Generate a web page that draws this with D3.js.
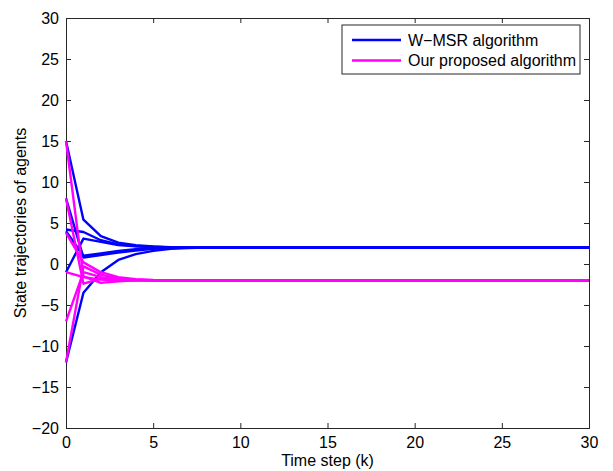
<!DOCTYPE html>
<html lang="en">
<head>
  <meta charset="UTF-8">
  <title>State trajectories</title>
  <style type="text/css">
       body{
          margin:0;
          background:#fff;
       }
       text{ font-family: "Liberation Sans", Arial, sans-serif; fill:#000; }
  </style>
  <script src="https://d3js.org/d3.v7.min.js"></script>
</head>
<body>
   <svg></svg>
   <script>
          // time steps (only the part where things move, then the flat end)
          const steps = [0, 1, 2, 3, 4, 5, 6, 7, 8, 30];

          // W-MSR algorithm, one array per agent
          const wmsr = [
            [15, 5.4, 3.4, 2.6, 2.3, 2.15, 2.05, 2.0, 2.0, 2.0],
            [8, 0.8, 1.1, 1.4, 1.65, 1.85, 1.95, 2.0, 2.0, 2.0],
            [4.2, 3.9, 2.9, 2.4, 2.2, 2.1, 2.03, 2.0, 2.0, 2.0],
            [-1, 3.1, 2.7, 2.3, 2.15, 2.05, 2.0, 2.0, 2.0, 2.0],
            [-12, -3.5, -1.0, 0.5, 1.2, 1.6, 1.85, 1.95, 2.0, 2.0],
            [4, 1.0, 1.3, 1.6, 1.8, 1.9, 1.97, 2.0, 2.0, 2.0]
          ];

          // proposed algorithm
          const proposed = [
            [15, -1.5, -2.3, -2.1, -2.0, -2.0, -2.0, -2.0, -2.0, -2.0],
            [8, -2.4, -1.8, -1.95, -2.0, -2.0, -2.0, -2.0, -2.0, -2.0],
            [3.8, 0.2, -1.0, -1.6, -1.85, -1.95, -2.0, -2.0, -2.0, -2.0],
            [-1, -1.6, -1.9, -2.0, -2.0, -2.0, -2.0, -2.0, -2.0, -2.0],
            [-7, -1.0, -1.6, -1.85, -1.95, -2.0, -2.0, -2.0, -2.0, -2.0],
            [-12, -0.3, -1.3, -1.75, -1.9, -2.0, -2.0, -2.0, -2.0, -2.0]
          ];

          const xTicks = [0, 5, 10, 15, 20, 25, 30];
          const yTicks = [-20, -15, -10, -5, 0, 5, 10, 15, 20, 25, 30];
          const legendNames = ["W\u2212MSR algorithm", "Our proposed algorithm"];
          const colors = ["#0000ff", "#ff00ff"];

          const W = 613, H = 471;
          const margin = {top:18, left:66, bottom:43, right:24};
          const width = W - margin.left - margin.right;
          const height = H - margin.top - margin.bottom;

          const svg = d3.select("svg")
                       .attr("width", W)
                       .attr("height", H);
          const g = svg.append("g")
                       .attr("transform", `translate(${margin.left},${margin.top})`);

          const xScale = d3.scaleLinear().domain([0, 30]).range([0, width]);
          const yScale = d3.scaleLinear().domain([-20, 30]).range([height, 0]);

          // axes, matlab style: ticks inside, box all round
          const fmt = d => d < 0 ? "\u2212" + Math.abs(d) : "" + d;
          const tl = 5;
          g.append("g").attr("transform", `translate(0,${height})`)
             .call(d3.axisBottom(xScale).tickValues(xTicks).tickSize(-tl).tickPadding(9).tickFormat(fmt));
          g.append("g")
             .call(d3.axisTop(xScale).tickValues(xTicks).tickSize(-tl).tickFormat(""));
          g.append("g")
             .call(d3.axisLeft(yScale).tickValues(yTicks).tickSize(-tl).tickPadding(7).tickFormat(fmt));
          g.append("g").attr("transform", `translate(${width},0)`)
             .call(d3.axisRight(yScale).tickValues(yTicks).tickSize(-tl).tickFormat(""));

          g.selectAll(".domain").attr("stroke", "#262626");
          g.selectAll(".tick line").attr("stroke", "#262626");
          g.selectAll(".tick text").attr("font-size", 16).attr("font-family", "Liberation Sans, Arial, sans-serif").attr("fill", "#000");

          const line = d3.line()
              .x((d, i) => xScale(steps[i]))
              .y(d => yScale(d));

          [wmsr, proposed].forEach((series, s) => {
            g.append("g").selectAll("path")
              .data(series)
              .enter()
              .append("path")
               .attr("d", line)
               .attr("fill", "none")
               .attr("stroke", colors[s])
               .attr("stroke-width", 2.4)
               .attr("stroke-linejoin", "round");
          });

          // labels
          svg.append("text")
             .attr("x", margin.left + width / 2)
             .attr("y", 466)
             .attr("text-anchor", "middle")
             .attr("font-size", 16)
             .text("Time step (k)");
          svg.append("text")
             .attr("transform", `translate(26,${margin.top + height / 2}) rotate(-90)`)
             .attr("text-anchor", "middle")
             .attr("font-size", 16)
             .text("State trajectories of agents");

          // legend
          const lg = svg.append("g").attr("transform", "translate(342,25)");
          lg.append("rect")
             .attr("width", 238).attr("height", 49)
             .attr("fill", "#fff").attr("stroke", "#262626");
          legendNames.forEach((name, i) => {
            lg.append("line")
              .attr("x1", 10).attr("x2", 59)
              .attr("y1", 15 + i * 20.5).attr("y2", 15 + i * 20.5)
              .attr("stroke", colors[i]).attr("stroke-width", 2.4);
            lg.append("text")
              .attr("x", 66).attr("y", 15 + i * 20.5)
              .attr("dy", "0.35em")
              .attr("font-size", 16)
              .text(name);
          });
   </script>
</body>
</html>
